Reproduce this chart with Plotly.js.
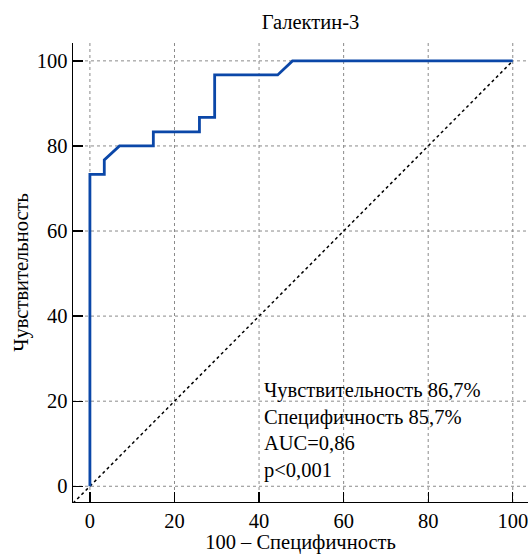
<!DOCTYPE html>
<html>
<head>
<meta charset="utf-8">
<script src="https://cdn.plot.ly/plotly-3.0.1.min.js"></script>
<style>html,body{margin:0;padding:0;background:#fff;}#chart{width:528px;height:554px;}</style>
</head>
<body>
<div id="chart"></div>
<script>
// ROC curve: 100 - specificity (x) vs sensitivity (y)
var rocX = [0, 0, 3.4, 3.4, 7.0, 15.0, 15.0, 25.9, 25.9, 29.5, 29.5, 44.4, 47.9, 100];
var rocY = [0, 73.3, 73.3, 76.7, 80.0, 80.0, 83.3, 83.3, 86.7, 86.7, 96.7, 96.7, 100, 100];
var diagX = [-4, 100];
var diagY = [-4, 100];
var tickVals = [0, 20, 40, 60, 80, 100];
var tickText = ['0', '20', '40', '60', '80', '100'];
var statsLines = ['Чувствительность 86,7%', 'Специфичность 85,7%', 'AUC=0,86', 'p<0,001'];
var titleText = 'Галектин-3';
var xTitle = '100 – Специфичность';
var yTitle = 'Чувствительность';

var font = 'Liberation Serif';
var fs = 20.5;
var gridLine = {color: '#8a8a8a', width: 1, dash: '3px,3px'};
var shapes = [];
tickVals.forEach(function (v) {
  shapes.push({type: 'line', xref: 'x', yref: 'paper', x0: v, x1: v, y0: 0, y1: 1, layer: 'below', line: gridLine});
  shapes.push({type: 'line', xref: 'paper', yref: 'y', x0: 0, x1: 1, y0: v, y1: v, layer: 'below', line: gridLine});
});

var data = [
  {x: diagX, y: diagY, mode: 'lines', line: {color: '#000', width: 1.5, dash: 'dot'}, hoverinfo: 'skip'},
  {x: rocX, y: rocY, mode: 'lines', line: {color: '#0b47a8', width: 2.8}, hoverinfo: 'skip'}
];

var axisCommon = {
  showgrid: false, zeroline: false, showline: true, linecolor: '#000', linewidth: 1.3,
  ticks: 'inside', ticklen: 10, tickcolor: '#000', tickwidth: 1.3,
  tickvals: tickVals, ticktext: tickText, ticklabeloverflow: 'allow',
  tickfont: {family: font, size: fs, color: '#000'}
};

var layout = {
  width: 528, height: 554,
  font: {family: font, size: fs, color: '#000'},
  margin: {l: 73, r: 0, t: 43, b: 52},
  paper_bgcolor: '#fff', plot_bgcolor: '#fff',
  showlegend: false,
  title: {text: titleText, font: {family: font, size: fs, color: '#000'}, x: 0.588, xanchor: 'center', y: 0.96, yanchor: 'middle'},
  xaxis: Object.assign({}, axisCommon, {range: [-4, 103.6], title: {text: xTitle, font: {family: font, size: fs, color: '#000'}, standoff: 3}}),
  yaxis: Object.assign({}, axisCommon, {range: [-3.7, 104.2], title: {text: yTitle, font: {family: font, size: fs, color: '#000'}, standoff: 2}}),
  shapes: shapes,
  annotations: [{
    xref: 'x', yref: 'y', x: 40.8, y: 25.8, xanchor: 'left', yanchor: 'top', align: 'left', showarrow: false,
    text: statsLines.join('<br>'), font: {family: font, size: fs, color: '#000'}
  }]
};

Plotly.newPlot('chart', data, layout, {displayModeBar: false, staticPlot: true});
</script>
</body>
</html>
